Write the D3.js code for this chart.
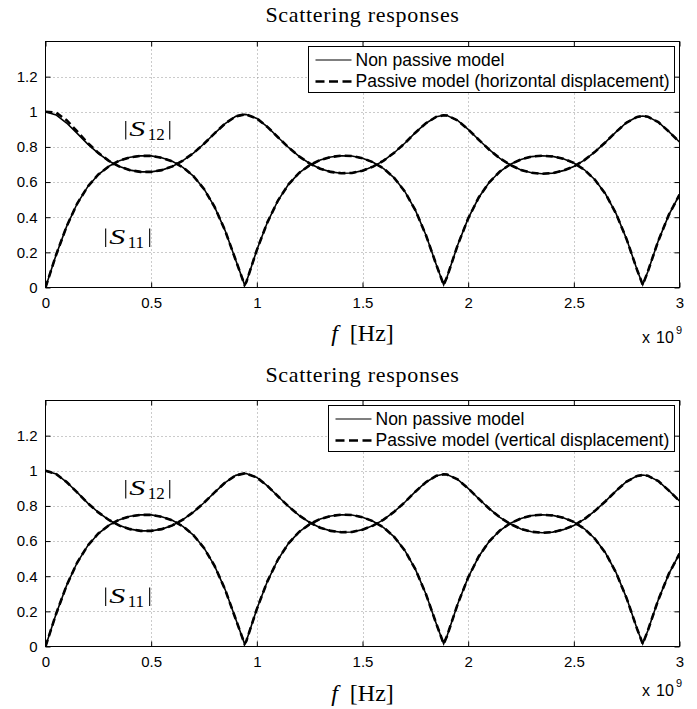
<!DOCTYPE html>
<html>
<head>
<meta charset="utf-8">
<script src="https://cdn.jsdelivr.net/npm/d3@7"></script>
<style>
  body { margin: 0; background: #fff; }
  svg { display: block; }
</style>
</head>
<body>
<div id="chart"></div>
<script>
// frequency samples, in units of 1e9 Hz
const freq = [0, 0.05, 0.10, 0.15, 0.20, 0.25, 0.30, 0.35, 0.40, 0.45, 0.50, 0.55, 0.60, 0.65, 0.70, 0.75, 0.80, 0.85, 0.90, 0.942,
  0.95, 1.00, 1.05, 1.10, 1.15, 1.20, 1.25, 1.30, 1.35, 1.40, 1.45, 1.50, 1.55, 1.60, 1.65, 1.70, 1.75, 1.80, 1.85, 1.884,
  1.90, 1.95, 2.00, 2.05, 2.10, 2.15, 2.20, 2.25, 2.30, 2.35, 2.40, 2.45, 2.50, 2.55, 2.60, 2.65, 2.70, 2.75, 2.80, 2.826,
  2.85, 2.90, 2.95, 3.00];

// |S11| of the non passive model
const s11NonPassive = [0, .185, .348, .478, .574, .643, .690, .722, .741, .749, .749, .738, .718, .684, .634, .561, .459, .324, .156, .015,
  .030, .213, .371, .495, .587, .652, .696, .726, .743, .750, .748, .736, .713, .677, .624, .547, .440, .299, .127, .015,
  .060, .240, .393, .512, .599, .660, .702, .729, .745, .750, .746, .733, .709, .670, .613, .532, .420, .274, .098, .015,
  .090, .267, .415, .528];

// |S12| of the non passive model
const s12NonPassive = [1.000, .982, .936, .877, .816, .763, .720, .688, .668, .658, .658, .668, .689, .722, .765, .818, .877, .933, .974, .985,
  .984, .962, .914, .855, .797, .746, .706, .676, .658, .650, .652, .665, .688, .722, .767, .821, .881, .935, .972, .980,
  .979, .951, .900, .841, .784, .735, .697, .669, .653, .647, .651, .665, .689, .725, .772, .827, .886, .939, .971, .976,
  .972, .941, .887, .828];

// passive model (horizontal displacement): |S12| sits a bit higher below 0.35e9 Hz, the rest overlaps
const s12PassiveHorizLow = [1.000, .995, .952, .888, .822, .766, .721, .688];
const s11PassiveHoriz = s11NonPassive.slice();
const s12PassiveHoriz = s12PassiveHorizLow.concat(s12NonPassive.slice(s12PassiveHorizLow.length));

// passive model (vertical displacement): overlaps the non passive curves
const s11PassiveVert = s11NonPassive.slice();
const s12PassiveVert = s12NonPassive.slice();

const xTicks = [0, 0.5, 1, 1.5, 2, 2.5, 3];
const yTicks = [0, 0.2, 0.4, 0.6, 0.8, 1, 1.2];
const titleText = "Scattering responses";
const legendNonPassive = "Non passive model";

const width = 697, height = 709;
const left = 45.5, right = 679.5;

const panels = [
  {top: 41.5, bottom: 287.5, titleY: 21.5, expY: 343, labelY: 341,
   legend: "Passive model (horizontal displacement)", s11: s11PassiveHoriz, s12: s12PassiveHoriz},
  {top: 400.5, bottom: 646.5, titleY: 381.5, expY: 696, labelY: 701,
   legend: "Passive model (vertical displacement)", s11: s11PassiveVert, s12: s12PassiveVert}
];

const svg = d3.select("#chart").append("svg")
  .attr("width", width)
  .attr("height", height);

const tickFmt = d => String(+d.toFixed(1));
const serif = "'Liberation Serif', 'Times New Roman', serif";
const sans = "'Liberation Sans', Arial, sans-serif";

panels.forEach((p, i) => {
  const x = d3.scaleLinear().domain([0, 3]).range([left, right]);
  const y = d3.scaleLinear().domain([0, 1.4]).range([p.bottom, p.top]);

  const g = svg.append("g");

  g.append("clipPath").attr("id", "clip" + i)
    .append("rect")
      .attr("x", left).attr("y", p.top)
      .attr("width", right - left).attr("height", p.bottom - p.top);

  // dotted grid
  g.append("g").selectAll("line")
    .data(xTicks.filter(d => d > 0 && d < 3))
    .join("line")
      .attr("x1", d => Math.round(x(d)) + 0.5).attr("x2", d => Math.round(x(d)) + 0.5)
      .attr("y1", p.top).attr("y2", p.bottom)
      .attr("stroke", "#8a8a8a").attr("stroke-width", 0.9).attr("stroke-dasharray", "1,3");
  g.append("g").selectAll("line")
    .data(yTicks.filter(d => d > 0))
    .join("line")
      .attr("y1", d => Math.round(y(d)) + 0.5).attr("y2", d => Math.round(y(d)) + 0.5)
      .attr("x1", left).attr("x2", right)
      .attr("stroke", "#8a8a8a").attr("stroke-width", 0.9).attr("stroke-dasharray", "1,3");

  // axes with inward ticks on all four sides
  const axisFont = s => s.attr("font-family", sans)
    .attr("font-size", 15).call(a => a.select(".domain").remove())
    .call(a => a.selectAll("text").attr("fill", "#000"))
    .call(a => a.selectAll("line").attr("stroke", "#000"));

  g.append("g").attr("transform", `translate(0,${p.bottom})`)
    .call(d3.axisBottom(x).tickValues(xTicks).tickSizeInner(-5).tickSizeOuter(0).tickPadding(10).tickFormat(tickFmt))
    .call(axisFont);
  g.append("g").attr("transform", `translate(0,${p.top})`)
    .call(d3.axisTop(x).tickValues(xTicks).tickSizeInner(-5).tickSizeOuter(0).tickFormat(""))
    .call(axisFont);
  g.append("g").attr("transform", `translate(${left},0)`)
    .call(d3.axisLeft(y).tickValues(yTicks).tickSizeInner(-5).tickSizeOuter(0).tickPadding(8).tickFormat(tickFmt))
    .call(axisFont);
  g.append("g").attr("transform", `translate(${right},0)`)
    .call(d3.axisRight(y).tickValues(yTicks).tickSizeInner(-5).tickSizeOuter(0).tickFormat(""))
    .call(axisFont);

  // curves
  const curves = g.append("g").attr("clip-path", `url(#clip${i})`);
  const line = d3.line().x((d, k) => x(freq[k])).y(d => y(d));
  [s11NonPassive, s12NonPassive].forEach(s => {
    curves.append("path").attr("d", line(s))
      .attr("fill", "none").attr("stroke", "#000").attr("stroke-width", 1.6);
  });
  [p.s11, p.s12].forEach(s => {
    curves.append("path").attr("d", line(s))
      .attr("fill", "none").attr("stroke", "#000").attr("stroke-width", 2.6)
      .attr("stroke-dasharray", "7,4");
  });

  // box
  g.append("rect")
    .attr("x", left).attr("y", p.top)
    .attr("width", right - left).attr("height", p.bottom - p.top)
    .attr("fill", "none").attr("stroke", "#000").attr("stroke-width", 1);

  // curve labels |S12|, |S11|
  const mathLabel = (fx, fy, sub) => {
    const x0 = x(fx), y0 = y(fy);
    const lab = g.append("g");
    [x0 + 1, x0 + 45].forEach(bx => {
      lab.append("line").attr("x1", bx).attr("x2", bx)
        .attr("y1", y0 - 15).attr("y2", y0 + 3.5)
        .attr("stroke", "#000").attr("stroke-width", 1.1);
    });
    lab.append("text").attr("x", x0 + 4.5).attr("y", y0)
      .attr("font-family", serif).attr("font-style", "italic")
      .attr("font-size", 22).attr("textLength", 16).attr("lengthAdjust", "spacingAndGlyphs")
      .attr("fill", "#000").text("S");
    lab.append("text").attr("x", x0 + 23).attr("y", y0 + 4)
      .attr("font-family", serif).attr("font-size", 17)
      .attr("fill", "#000").text(sub);
  };
  mathLabel(0.375, 0.862, "12");
  mathLabel(0.28, 0.25, "11");

  // title
  g.append("text")
    .attr("x", (left + right) / 2).attr("y", p.titleY)
    .attr("text-anchor", "middle")
    .attr("font-family", serif)
    .attr("font-size", 22).attr("letter-spacing", 0.7).attr("fill", "#000")
    .text(titleText);

  // x label
  const xl = g.append("text")
    .attr("x", (left + right) / 2).attr("y", p.labelY)
    .attr("text-anchor", "middle")
    .attr("font-family", serif)
    .attr("font-size", 24).attr("fill", "#000");
  xl.append("tspan").attr("font-style", "italic").text("f");
  xl.append("tspan").text("\u2002[Hz]");

  // exponent
  const ex = g.append("text")
    .attr("y", p.expY)
    .attr("font-family", sans)
    .attr("font-size", 16).attr("fill", "#000");
  ex.append("tspan").attr("x", 642).text("x");
  ex.append("tspan").attr("x", 656).text("10");
  ex.append("tspan").attr("x", 676).attr("dy", -9).attr("font-size", 11).text("9");

  // legend
  const lg = g.append("g");
  const box = lg.append("rect");
  const t1 = lg.append("text").text(legendNonPassive);
  const t2 = lg.append("text").text(p.legend);
  lg.selectAll("text")
    .attr("font-family", sans)
    .attr("font-size", 17.5).attr("fill", "#000");
  const tw = Math.max(t1.node().getComputedTextLength(), t2.node().getComputedTextLength());
  const bw = Math.round(47 + tw + 5);
  const bx = right - 5 - bw, by = p.top + 5;
  box.attr("x", bx).attr("y", by).attr("width", bw).attr("height", 46)
    .attr("fill", "#fff").attr("stroke", "#000").attr("stroke-width", 1);
  t1.attr("x", bx + 47).attr("y", by + 19);
  t2.attr("x", bx + 47).attr("y", by + 40);
  lg.append("line").attr("x1", bx + 7).attr("x2", bx + 43)
    .attr("y1", by + 13.5).attr("y2", by + 13.5)
    .attr("stroke", "#000").attr("stroke-width", 1.2);
  lg.append("line").attr("x1", bx + 7).attr("x2", bx + 43)
    .attr("y1", by + 35).attr("y2", by + 35)
    .attr("stroke", "#000").attr("stroke-width", 2.5).attr("stroke-dasharray", "9,4.5");
});
</script>
</body>
</html>
